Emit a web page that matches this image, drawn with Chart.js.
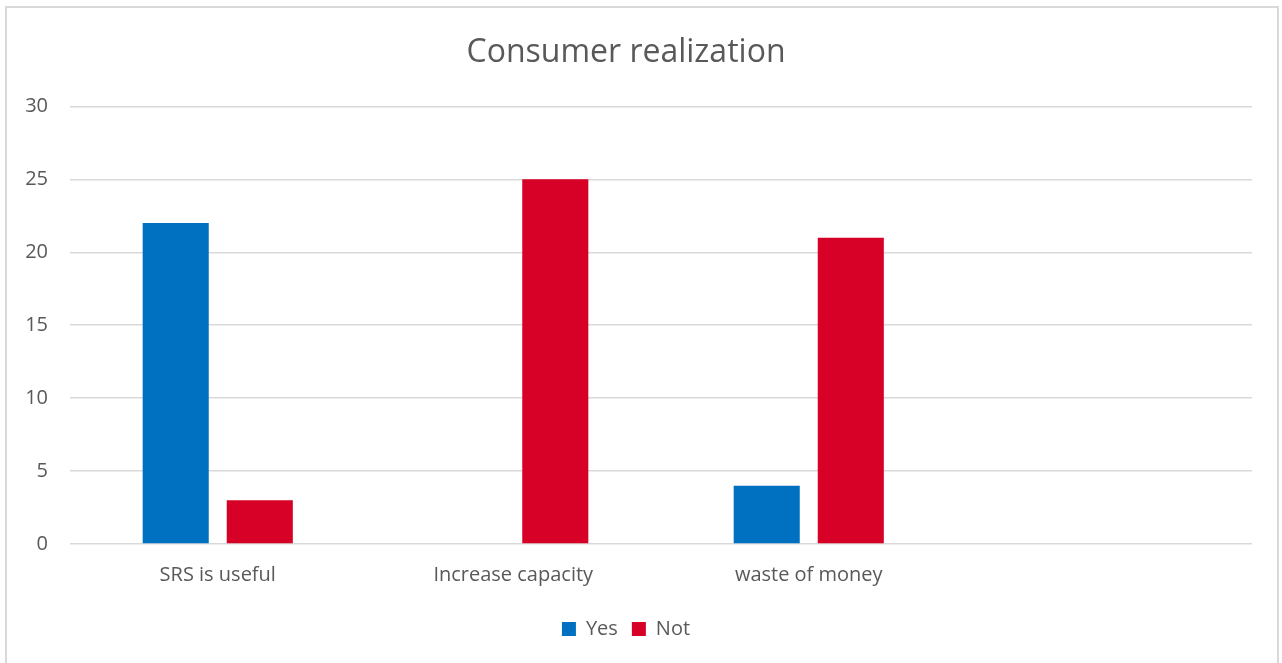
<!DOCTYPE html>
<html lang="en">

<head>
    <meta charset="UTF-8">
    <title>Consumer realization</title>
    <script src="https://cdn.jsdelivr.net/npm/chart.js/dist/chart.umd.min.js"></script>
    <style>
        html, body { margin: 0; padding: 0; background: #fff; overflow: hidden; }
        #frame {
            position: absolute; left: 5px; top: 6px; width: 1274px; height: 700px;
            border: 2px solid #d9d9d9; box-sizing: border-box;
        }
        #wrap { position: absolute; left: 0; top: 0; width: 1282px; height: 663px; }
    </style>
</head>

<body>
    <div id="frame"></div>
    <div id="wrap"><canvas id="myChart"></canvas></div>
    <script>
        const categories = ['SRS is useful', 'Increase capacity', 'waste of money', ''];
        const yesValues = [22, 0, 4, null];
        const notValues = [3, 25, 21, null];
        const yTicks = [0, 5, 10, 15, 20, 25, 30];

        const textColor = '#595959';
        const fontFamily = "'Open Sans', 'Noto Sans', sans-serif";

        const ctx = document.getElementById('myChart').getContext('2d');
        const myChart = new Chart(ctx, {
            type: 'bar',
            data: {
                labels: categories,
                datasets: [{
                    label: 'Yes',
                    data: yesValues,
                    backgroundColor: '#0070c0'
                }, {
                    label: 'Not',
                    data: notValues,
                    backgroundColor: '#d70026'
                }]
            },
            options: {
                responsive: true,
                maintainAspectRatio: false,
                animation: false,
                categoryPercentage: 0.569,
                barPercentage: 0.786,
                layout: {
                    padding: { left: 0, right: 30, top: 20, bottom: 14 }
                },
                plugins: {
                    title: {
                        display: true,
                        text: 'Consumer realization',
                        color: textColor,
                        font: { family: fontFamily, size: 32, weight: 'normal' },
                        padding: { top: 14, bottom: 34 }
                    },
                    legend: {
                        position: 'bottom',
                        labels: {
                            color: textColor,
                            font: { family: fontFamily, size: 20 },
                            boxWidth: 14,
                            boxHeight: 14,
                            padding: 14
                        }
                    },
                    tooltip: { enabled: false }
                },
                scales: {
                    x: {
                        grid: { display: false },
                        border: { display: false },
                        ticks: {
                            color: textColor,
                            font: { family: fontFamily, size: 20 },
                            padding: 11,
                            maxRotation: 0
                        },
                        afterFit: s => { s.height = 61; }
                    },
                    y: {
                        min: 0,
                        max: 30,
                        afterBuildTicks: s => { s.ticks = yTicks.map(v => ({ value: v })); },
                        grid: { color: '#d9d9d9', lineWidth: 1.5, drawTicks: false },
                        border: { display: false },
                        ticks: {
                            color: textColor,
                            font: { family: fontFamily, size: 20 },
                            padding: 22
                        },
                        afterFit: s => { s.width = 70; }
                    }
                }
            }
        });
    </script>
</body>

</html>
